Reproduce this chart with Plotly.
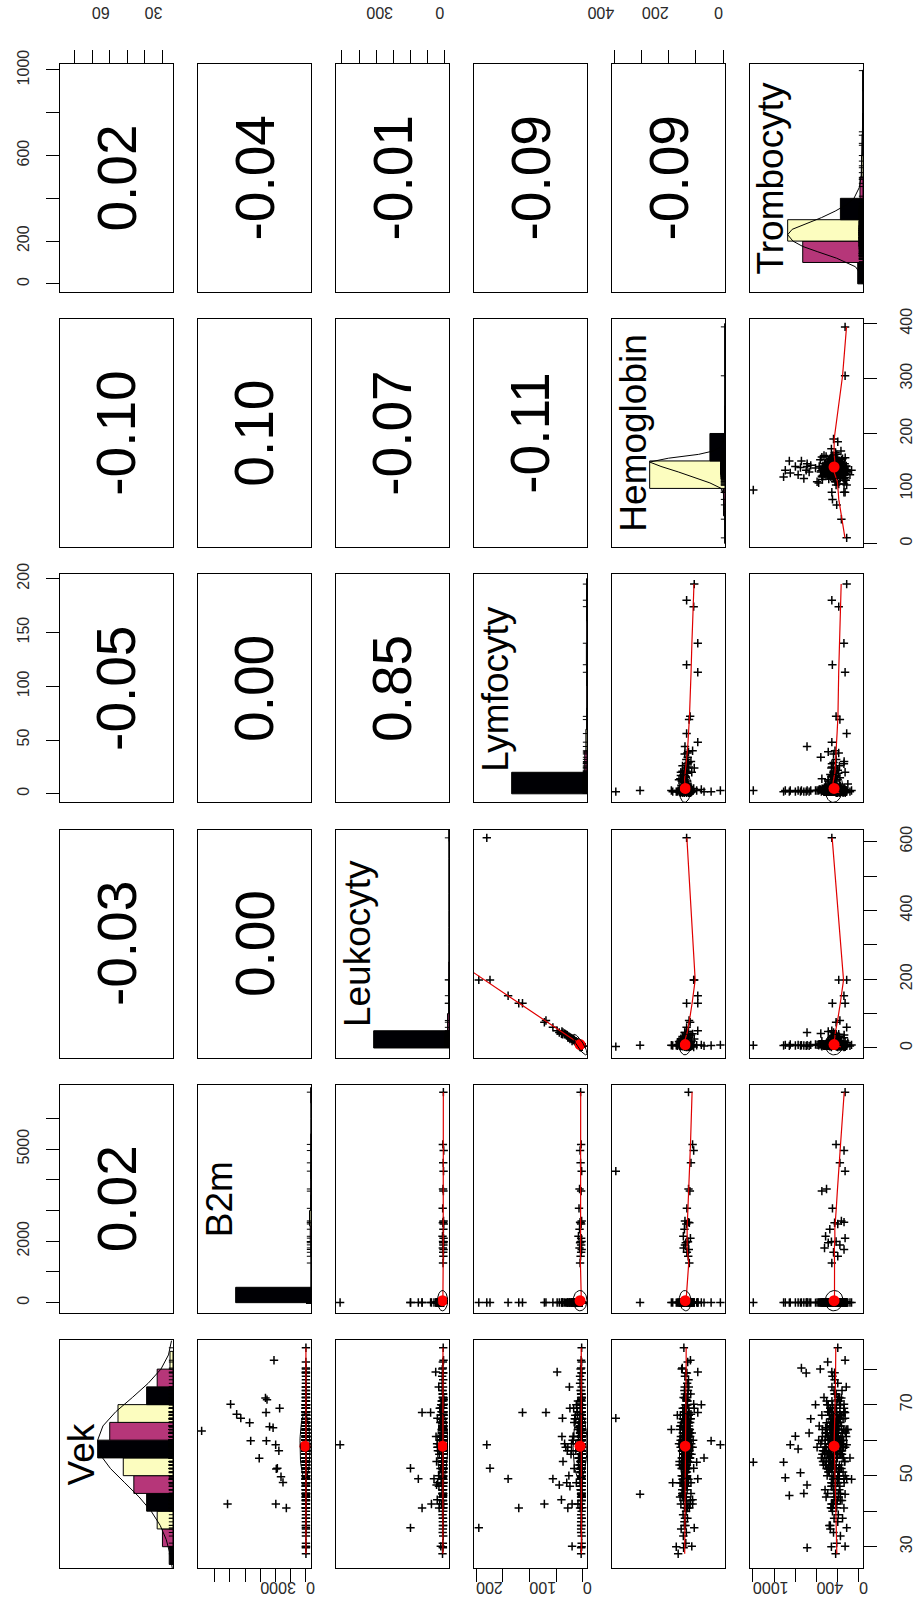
import numpy as np
import plotly.graph_objects as go

VAR_NAMES = ["Vek", "B2m", "Leukocyty", "Lymfocyty", "Hemoglobin", "Trombocyty"]

# ---------------- records: patients with raised B2m ----------------
vek_a = [62.6, 42.0, 70.1, 67.3, 66.2, 64.9, 59.8, 54.9, 71.9, 67.8, 71.4, 59.8, 63.8, 63.5, 82.5, 58.7, 51.9, 42.0, 52.1, 57.0, 69.0, 49.7, 48.1, 40.9]
b2m_a = [6850, 5150, 4950, 4550, 4280, 3700, 3630, 3070, 2660, 2620, 2560, 2600, 2390, 2160, 2100, 1990, 1950, 1980, 1880, 1780, 1730, 1640, 1510, 1290]
leuk_a = [5, 8, 3, 6, 4, 7, 5, 9, 4, 6, 3, 8, 5, 10, 4, 7, 6, 3, 5, 8, 4, 6, 5, 7]
lymf_a = [4, 3, 5, 4, 2, 6, 3, 7, 2, 5, 3, 4, 6, 8, 3, 2, 5, 4, 3, 6, 2, 3, 4, 5]
hemo_a = [127, 112, 108, 118, 394, 127, 122, 133, 140, 128, 135, 124, 142, 146, 120, 131, 137, 129, 140, 145, 126, 133, 128, 124]
tromb_a = [131, 216, 141, 180, 131, 306, 350, 250, 166, 141, 200, 230, 275, 315, 131, 216, 290, 260, 180, 325, 141, 240, 200, 256]

# ---------------- records: high leukocytes / lymphocytes ----------------
vek_l = [35.3, 58.7, 52.1, 49.1, 40.9, 67.8, 42.0, 67.8, 49.1, 79.2, 47.4, 43.2, 66.2, 40.9, 69.0, 30.1]
b2m_l = [5, 3, 7, 4, 6, 3, 5, 8, 4, 6, 3, 5, 7, 4, 6, 3]
leuk_l = [198, 611, 198, 152, 130, 130, 75, 80, 60, 50, 45, 41, 40, 30, 26, 20]
lymf_l = [195, 180, 174, 140, 120, 113, 72, 69, 56, 48, 44, 40, 38, 28, 24, 20]
hemo_l = [106, 134, 108, 93, 134, 93, 121, 125, 134, 93, 140, 112, 131, 131, 106, 115]
tromb_l = [116, 256, 191, 142, 251, 131, 216, 180, 116, 256, 490, 226, 191, 142, 216, 131]

# ---------------- records: high platelets ----------------
vek_t = [53.8, 53.8, 49.4, 44.4, 58.7, 61.1, 80.3, 78.9, 57.5, 50.8, 29.7, 62.0, 66.0, 45.0]
b2m_t = [4, 3, 5, 2, 6, 3, 4, 5, 3, 2, 4, 6, 3, 5]
leuk_t = [8, 7, 9, 6, 10, 7, 8, 6, 9, 7, 8, 6, 9, 7]
lymf_t = [3, 2, 3, 2, 3, 2, 3, 2, 3, 2, 3, 2, 3, 2]
hemo_t = [97, 121, 133, 150, 128, 140, 150, 133, 125, 138, 145, 130, 142, 118]
tromb_t = [997, 711, 695, 657, 648, 600, 543, 498, 574, 552, 489, 470, 455, 520]

# ---------------- records: unusual hemoglobin ----------------
vek_h = [44.8, 59.8, 58.7, 55.0, 63.0, 48.0, 70.0]
b2m_h = [4, 3, 5, 2, 4, 3, 6]
leuk_h = [8, 7, 9, 6, 8, 7, 9]
lymf_h = [3, 2, 3, 2, 3, 2, 4]
hemo_h = [305, 44, 10, 70, 190, 185, 80]
tromb_h = [131, 166, 116, 210, 240, 200, 250]

# ---------------- records: main body of patients ----------------
vek_b = [58, 63, 47, 71, 55, 66, 52, 60, 39, 57, 68, 61,
         54, 49, 62, 75, 58, 44, 65, 59, 51, 67, 56, 33,
         61, 70, 53, 57, 46, 64, 59, 42, 68, 55, 62, 50,
         77, 56, 60, 48, 63, 58, 36, 66, 53, 59, 72, 57,
         45, 62, 55, 69, 51, 60, 57, 64, 41, 58, 67, 54,
         60, 52, 73, 56, 61, 47, 65, 58, 55, 38, 63, 59,
         66, 54, 58, 43, 62, 57, 70, 50, 61, 56, 79, 64,
         53, 60, 49, 67, 58, 63, 55, 31, 60, 65, 52, 58,
         57, 68, 62, 46, 59, 54, 74, 61, 56, 66, 48, 60,
         64, 50, 57, 62, 35, 58, 69, 55, 63, 53, 60, 44,
         59, 65, 52, 71, 57, 61, 49, 66, 56, 28, 62, 58,
         55, 63, 60, 45, 67, 54, 59, 64, 76, 57, 51, 62,
         61, 56, 68, 53, 58, 40, 63, 57, 65, 60, 48, 70,
         52, 59, 64, 57, 82, 62, 55, 66, 50, 58, 61, 37,
         63, 58, 46, 60, 56, 69, 53, 61, 59, 73, 54, 65,
         57, 62, 51, 67, 58, 43, 60, 64, 55, 59, 78, 52,
         60, 55, 66, 58, 48, 63, 57, 61, 34, 65, 56, 68,
         59, 64, 53, 62, 72, 56, 60, 47, 67, 58, 63, 42,
         54, 61, 58, 65, 50, 59, 70, 57, 62, 44, 66, 60,
         86, 57, 63, 52, 60, 58, 65, 49, 61, 74, 56, 30,
         57, 61, 49, 66, 54, 63, 58, 70, 45, 60, 52, 64,
         59, 55, 68, 48, 62, 57, 73, 53, 60, 65, 41, 58,
         63, 50, 59, 67, 56, 61, 47, 64, 58, 54, 69, 60,
         52, 66, 57, 62, 38, 59, 64, 55, 71, 57, 61, 46,
         60, 58, 65, 51, 63, 56, 60, 75, 53, 62, 59, 67,
         55, 64, 43, 60, 58, 68, 54, 61, 57, 50, 66, 59,
         62, 57, 60, 53, 70, 58, 63, 48, 65, 56, 61, 80,
         58, 45, 62, 59, 55, 64, 51, 60, 67, 58, 36, 63,
         61, 56, 66, 49, 59, 62, 57, 72, 54, 60, 64, 52,
         57, 63, 55, 60, 44, 65, 58, 61, 53, 69, 59, 62]
b2m_b = [3, 2, 5, 4, 2, 6, 3, 4, 2, 7, 3, 5,
         4, 3, 2, 6, 3, 5, 4, 2, 8, 3, 4, 2,
         5, 3, 4, 2, 6, 3, 2, 5, 4, 3, 7, 2,
         2, 4, 3, 5, 2, 4, 6, 3, 2, 5, 3, 4,
         3, 6, 2, 4, 5, 2, 3, 4, 6, 2, 4, 3,
         4, 2, 5, 3, 2, 7, 4, 3, 5, 2, 3, 6,
         2, 5, 3, 4, 6, 3, 2, 5, 3, 4, 2, 9,
         5, 3, 2, 4, 3, 6, 5, 2, 4, 3, 5, 2,
         3, 4, 6, 2, 5, 3, 4, 2, 3, 6, 2, 4,
         4, 2, 3, 5, 2, 4, 3, 6, 2, 4, 5, 3,
         2, 6, 4, 3, 5, 2, 4, 3, 7, 2, 3, 5,
         5, 3, 2, 6, 4, 3, 5, 2, 3, 4, 2, 6,
         3, 4, 5, 2, 3, 6, 2, 4, 5, 3, 4, 2,
         4, 2, 3, 5, 6, 2, 4, 3, 2, 5, 3, 4,
         6, 3, 4, 2, 3, 5, 2, 6, 4, 3, 5, 2,
         2, 5, 3, 4, 2, 3, 6, 2, 5, 4, 3, 8,
         3, 2, 6, 3, 4, 5, 2, 3, 4, 6, 2, 5,
         5, 4, 2, 3, 6, 2, 5, 4, 3, 2, 4, 3,
         4, 3, 5, 2, 3, 4, 6, 2, 3, 5, 2, 4,
         3, 6, 2, 4, 5, 3, 2, 4, 6, 3, 5, 2,
         4, 2, 6, 3, 5, 2, 4, 3, 7, 2, 5, 3,
         3, 5, 2, 4, 6, 3, 2, 5, 3, 4, 2, 6,
         2, 4, 3, 5, 2, 6, 4, 2, 3, 5, 4, 3,
         5, 3, 4, 2, 3, 5, 6, 3, 2, 4, 3, 5,
         3, 6, 2, 5, 4, 3, 2, 4, 5, 3, 6, 2,
         4, 2, 5, 3, 6, 2, 3, 5, 4, 2, 3, 4,
         2, 5, 3, 4, 2, 4, 5, 3, 6, 2, 4, 3,
         6, 3, 2, 5, 3, 4, 2, 6, 3, 5, 2, 4,
         3, 4, 5, 2, 4, 3, 6, 2, 4, 3, 5, 2,
         5, 2, 3, 4, 5, 2, 3, 4, 2, 6, 3, 5]
leuk_b = [7, 9, 6, 12, 8, 5, 22, 7, 10, 6, 8, 14,
          9, 6, 11, 7, 35, 8, 5, 9, 13, 7, 10, 6,
          8, 18, 7, 9, 6, 11, 8, 27, 7, 10, 5, 9,
          6, 10, 8, 7, 15, 9, 6, 12, 8, 42, 7, 11,
          10, 7, 9, 24, 6, 8, 11, 7, 9, 5, 16, 8,
          7, 12, 8, 6, 10, 31, 7, 9, 11, 8, 6, 19,
          9, 6, 13, 8, 7, 10, 5, 8, 48, 9, 7, 12,
          11, 8, 7, 20, 9, 6, 10, 8, 7, 14, 9, 6,
          8, 10, 6, 9, 28, 7, 11, 8, 6, 10, 38, 7,
          6, 9, 12, 7, 8, 10, 17, 6, 9, 7, 11, 8,
          10, 7, 8, 6, 13, 9, 7, 21, 8, 10, 6, 9,
          7, 11, 9, 8, 6, 45, 10, 7, 12, 8, 9, 6,
          9, 8, 16, 7, 10, 6, 9, 11, 7, 26, 8, 10,
          6, 10, 7, 9, 8, 12, 6, 9, 33, 7, 10, 8,
          8, 7, 11, 6, 9, 10, 14, 8, 7, 9, 6, 23,
          10, 9, 6, 8, 40, 7, 11, 9, 8, 6, 12, 7,
          7, 13, 9, 10, 6, 8, 19, 7, 9, 11, 8, 6,
          9, 6, 8, 12, 7, 29, 9, 10, 6, 8, 7, 15,
          11, 8, 7, 9, 10, 6, 8, 37, 9, 7, 12, 8,
          6, 9, 10, 7, 8, 11, 6, 9, 25, 10, 7, 8,
          8, 6, 11, 7, 9, 5, 13, 8, 6, 10, 7, 9,
          7, 10, 6, 18, 8, 9, 6, 11, 7, 8, 5, 12,
          9, 7, 8, 6, 10, 24, 7, 9, 6, 11, 8, 7,
          6, 9, 12, 8, 7, 10, 6, 9, 15, 7, 8, 10,
          10, 8, 7, 9, 6, 11, 8, 32, 7, 9, 6, 8,
          7, 11, 9, 6, 8, 7, 10, 8, 9, 6, 20, 7,
          9, 6, 8, 10, 7, 9, 6, 12, 8, 7, 9, 11,
          8, 10, 6, 7, 14, 8, 9, 7, 6, 10, 8, 9,
          6, 8, 9, 11, 7, 6, 27, 8, 10, 7, 9, 6,
          10, 7, 8, 6, 9, 12, 7, 8, 6, 9, 11, 7]
lymf_b = [2, 3, 2, 4, 2, 1, 16, 2, 3, 2, 3, 8,
          3, 2, 4, 2, 28, 2, 1, 3, 6, 2, 3, 2,
          2, 12, 2, 3, 2, 4, 3, 20, 2, 3, 1, 3,
          2, 3, 2, 2, 9, 3, 2, 5, 2, 34, 2, 4,
          3, 2, 3, 17, 2, 2, 4, 2, 3, 1, 10, 3,
          2, 5, 3, 2, 3, 24, 2, 3, 4, 2, 2, 13,
          3, 2, 6, 2, 2, 3, 1, 3, 39, 3, 2, 5,
          4, 2, 2, 14, 3, 2, 3, 2, 2, 7, 3, 2,
          2, 3, 2, 3, 21, 2, 4, 3, 2, 3, 30, 2,
          2, 3, 5, 2, 3, 3, 11, 2, 3, 2, 4, 2,
          3, 2, 3, 2, 6, 3, 2, 15, 2, 3, 2, 3,
          2, 4, 3, 2, 2, 37, 3, 2, 5, 3, 3, 2,
          3, 2, 10, 2, 3, 2, 3, 4, 2, 19, 3, 3,
          2, 3, 2, 3, 2, 5, 2, 3, 26, 2, 3, 3,
          3, 2, 4, 2, 3, 3, 8, 2, 2, 3, 2, 16,
          3, 3, 2, 2, 32, 2, 4, 3, 2, 2, 5, 2,
          2, 6, 3, 3, 2, 2, 13, 2, 3, 4, 3, 2,
          3, 2, 2, 5, 2, 22, 3, 3, 2, 2, 2, 9,
          4, 3, 2, 3, 3, 2, 2, 29, 3, 2, 5, 3,
          2, 3, 3, 2, 2, 4, 2, 3, 18, 3, 2, 2,
          3, 2, 4, 2, 3, 1, 6, 3, 2, 3, 2, 3,
          2, 3, 2, 12, 3, 3, 2, 4, 2, 3, 1, 5,
          3, 2, 3, 2, 3, 17, 2, 3, 2, 4, 3, 2,
          2, 3, 5, 3, 2, 3, 2, 3, 9, 2, 3, 3,
          3, 3, 2, 3, 2, 4, 3, 25, 2, 3, 2, 3,
          2, 4, 3, 2, 3, 2, 3, 3, 3, 2, 14, 2,
          3, 2, 3, 3, 2, 3, 2, 5, 3, 2, 3, 4,
          3, 3, 2, 2, 8, 3, 3, 2, 2, 3, 3, 3,
          2, 3, 3, 4, 2, 2, 21, 3, 3, 2, 3, 2,
          3, 2, 3, 2, 3, 5, 2, 3, 2, 3, 4, 2]
hemo_b = [138, 126, 145, 131, 152, 119, 140, 134, 147, 128, 142, 136,
          130, 149, 122, 141, 135, 158, 127, 144, 133, 139, 116, 146,
          143, 132, 137, 125, 150, 140, 129, 155, 136, 121, 148, 134,
          127, 144, 139, 153, 131, 118, 142, 135, 160, 130, 145, 138,
          146, 134, 128, 141, 137, 149, 124, 143, 132, 156, 139, 129,
          135, 151, 140, 123, 147, 133, 138, 112, 144, 131, 142, 162,
          120, 139, 148, 136, 129, 145, 134, 152, 127, 141, 137, 146,
          142, 126, 135, 157, 140, 131, 149, 137, 122, 144, 133, 139,
          150, 137, 124, 143, 134, 160, 129, 140, 146, 135, 118, 141,
          133, 147, 141, 128, 154, 138, 143, 125, 136, 149, 131, 144,
          139, 121, 152, 135, 142, 130, 146, 138, 127, 165, 140, 134,
          145, 136, 130, 148, 126, 141, 137, 155, 132, 143, 139, 115,
          128, 143, 138, 133, 151, 136, 124, 145, 140, 131, 147, 137,
          141, 134, 157, 139, 130, 144, 135, 128, 149, 137, 122, 142,
          136, 148, 132, 126, 143, 139, 153, 134, 141, 129, 145, 138,
          147, 131, 140, 145, 135, 120, 142, 137, 132, 150, 140, 127,
          133, 144, 136, 139, 158, 128, 141, 146, 135, 138, 123, 143,
          140, 125, 149, 134, 137, 142, 130, 139, 168, 132, 145, 136,
          129, 146, 138, 143, 132, 154, 136, 127, 141, 135, 148, 110,
          144, 137, 131, 140, 126, 147, 139, 133, 145, 142, 130, 172,
          134, 141, 127, 146, 138, 122, 143, 131, 150, 136, 129, 144,
          140, 125, 137, 152, 132, 145, 119, 139, 148, 130, 142, 135,
          128, 147, 136, 141, 124, 155, 133, 138, 126, 144, 139, 131,
          145, 130, 149, 135, 140, 127, 143, 137, 132, 151, 121, 142,
          136, 144, 129, 139, 158, 134, 141, 126, 146, 137, 133, 148,
          123, 138, 145, 131, 142, 136, 150, 129, 140, 135, 147, 117,
          142, 133, 127, 148, 137, 144, 131, 139, 125, 143, 136, 152,
          131, 146, 140, 134, 128, 141, 137, 156, 132, 145, 138, 126,
          147, 129, 143, 138, 135, 124, 149, 133, 141, 130, 144, 139,
          135, 142, 131, 146, 139, 153, 128, 140, 136, 148, 134, 143]
tromb_b = [215, 260, 180, 305, 240, 150, 225, 285, 195, 330, 210, 245,
           270, 190, 235, 120, 255, 310, 200, 165, 280, 230, 345, 175,
           205, 290, 250, 160, 220, 375, 185, 240, 140, 265, 215, 300,
           230, 175, 320, 255, 105, 210, 270, 195, 245, 360, 185, 225,
           295, 215, 145, 250, 230, 190, 340, 205, 265, 130, 240, 280,
           185, 250, 225, 300, 170, 260, 215, 395, 235, 155, 275, 210,
           240, 135, 270, 205, 315, 225, 180, 255, 290, 200, 230, 165,
           260, 220, 195, 350, 240, 115, 285, 210, 250, 175, 305, 235,
           200, 275, 240, 185, 225, 330, 160, 245, 215, 265, 140, 290,
           245, 190, 310, 230, 270, 205, 250, 85, 235, 285, 195, 220,
           275, 230, 165, 255, 210, 300, 240, 180, 325, 220, 260, 150,
           210, 345, 225, 195, 280, 240, 170, 265, 200, 235, 290, 125,
           230, 180, 260, 315, 205, 250, 145, 275, 240, 195, 220, 410,
           265, 215, 240, 170, 295, 230, 210, 255, 185, 310, 245, 200,
           190, 250, 320, 225, 160, 270, 235, 205, 280, 215, 135, 260,
           225, 300, 195, 245, 215, 175, 265, 230, 355, 210, 250, 185,
           280, 205, 235, 150, 260, 220, 290, 195, 240, 270, 175, 230,
           215, 265, 185, 240, 330, 200, 255, 225, 170, 285, 210, 250,
           245, 195, 275, 210, 235, 155, 300, 240, 220, 190, 265, 380,
           200, 240, 215, 290, 180, 250, 225, 70, 270, 235, 205, 260,
           225, 270, 190, 245, 310, 205, 260, 175, 235, 290, 215, 250,
           180, 240, 285, 220, 155, 265, 230, 335, 200, 250, 210, 275,
           245, 200, 230, 165, 280, 215, 255, 190, 320, 235, 270, 145,
           260, 215, 175, 300, 235, 250, 205, 270, 185, 225, 345, 240,
           210, 285, 245, 195, 260, 170, 230, 255, 215, 305, 240, 180,
           270, 225, 160, 250, 205, 295, 240, 215, 265, 130, 235, 285,
           195, 255, 230, 275, 215, 185, 310, 245, 200, 260, 220, 365,
           240, 175, 265, 220, 290, 235, 150, 255, 210, 245, 280, 195,
           230, 300, 205, 245, 180, 270, 225, 195, 340, 215, 250, 260,
           215, 245, 280, 190, 235, 260, 205, 120, 250, 225, 270, 240]

vek = vek_a + vek_l + vek_t + vek_h + vek_b
b2m = b2m_a + b2m_l + b2m_t + b2m_h + b2m_b
leuk = leuk_a + leuk_l + leuk_t + leuk_h + leuk_b
lymf = lymf_a + lymf_l + lymf_t + lymf_h + lymf_b
hemo = hemo_a + hemo_l + hemo_t + hemo_h + hemo_b
tromb = tromb_a + tromb_l + tromb_t + tromb_h + tromb_b
lens = [len(v) for v in (vek, b2m, leuk, lymf, hemo, tromb)]
if len(set(lens)) != 1:
    raise SystemExit("length mismatch %s" % lens)
DATA = [np.array(v, float) for v in (vek, b2m, leuk, lymf, hemo, tromb)]

# correlations printed in the upper panels
corr = [[1.00, 0.02, -0.03, -0.05, -0.10, 0.02],
        [0.02, 1.00, 0.00, 0.00, 0.10, -0.04],
        [-0.03, 0.00, 1.00, 0.85, -0.07, -0.01],
        [-0.05, 0.00, 0.85, 1.00, -0.11, -0.09],
        [-0.10, 0.10, -0.07, -0.11, 1.00, -0.09],
        [0.02, -0.04, -0.01, -0.09, -0.09, 1.00]]
# means (red dots) and standard deviations (ellipses)
means = [58.3, 65, 10, 5, 139, 235]
sds = [9.2, 330, 30, 13, 22, 84]
# axis ranges of each variable
axis_range = [[24.0, 88.2], [-330, 7090], [-28, 635], [-8, 204], [-7, 408], [-38, 1028]]

# histograms (normalised heights, as drawn on the diagonal)
hist_start = [25, 0, 0, 0, 0, 0]
hist_step = [5, 500, 50, 20, 50, 100]
hist_vek = [0.05, 0.14, 0.21, 0.35, 0.52, 0.66, 1.0, 0.84, 0.73, 0.35, 0.21, 0.04]
hist_b2m = [1.0, 0, 0, 0.004, 0.01, 0.02, 0.006, 0.004, 0.006, 0.004, 0.004, 0, 0, 0.004]
hist_leuk = [1.0, 0.02, 0.006, 0.006, 0.004, 0, 0, 0, 0, 0, 0, 0, 0.002]
hist_lymf = [1.0, 0.03, 0.015, 0.005, 0.003, 0.006, 0.008, 0.003, 0.006, 0.006]
hist_hemo = [0.003, 0.02, 1.0, 0.2, 0.003, 0, 0.002, 0.002]
hist_tromb = [0.07, 0.8, 1.0, 0.3, 0.04, 0.02, 0.012, 0.006, 0.0, 0.003]
HISTS = [hist_vek, hist_b2m, hist_leuk, hist_lymf, hist_hemo, hist_tromb]

# density curves (normalised)
dens_vek_x = [24, 28, 32, 36, 40, 44, 48, 52, 56, 60, 64, 68, 72, 76, 80, 84, 88]
dens_vek_y = [0.01, 0.04, 0.09, 0.17, 0.29, 0.45, 0.64, 0.83, 0.97, 1.0, 0.93, 0.76, 0.54, 0.33, 0.16, 0.06, 0.02]
dens_hemo_x = [0, 60, 90, 100, 110, 120, 130, 140, 148, 155, 162, 168, 175, 185, 200, 300, 400]
dens_hemo_y = [0.0, 0.005, 0.02, 0.05, 0.2, 0.4, 0.62, 0.85, 1.0, 0.75, 0.35, 0.16, 0.06, 0.02, 0.005, 0.002, 0.001]
dens_tromb_x = [0, 50, 80, 120, 150, 175, 200, 230, 255, 280, 310, 340, 370, 400, 450, 500, 600, 700, 800, 1000]
dens_tromb_y = [0.01, 0.04, 0.1, 0.35, 0.6, 0.8, 0.93, 1.0, 0.94, 0.75, 0.55, 0.37, 0.22, 0.12, 0.05, 0.025, 0.012, 0.008, 0.004, 0.002]
DENS = {0: (dens_vek_x, dens_vek_y), 4: (dens_hemo_x, dens_hemo_y), 5: (dens_tromb_x, dens_tromb_y)}

# outer axis ticks
tick_top = {0: ([30, 40, 50, 60, 70, 80], ["30", "", "", "60", "", ""]),
            2: ([0, 100, 200, 300, 400, 500, 600], ["0", "", "", "300", "", "", ""]),
            4: ([0, 100, 200, 300, 400], ["0", "", "200", "", "400"])}
tick_bottom = {1: ([0, 1000, 2000, 3000, 4000, 5000, 6000], ["0", "", "", "3000", "", "", ""]),
               3: ([0, 50, 100, 150, 200], ["0", "", "100", "", "200"]),
               5: ([0, 200, 400, 600, 800, 1000], ["0", "", "400", "", "", "1000"])}
tick_left = {5: ([0, 200, 400, 600, 800, 1000], ["0", "200", "", "600", "", "1000"]),
             3: ([0, 50, 100, 150, 200], ["0", "50", "100", "150", "200"]),
             1: ([0, 1000, 2000, 3000, 4000, 5000, 6000], ["0", "", "2000", "", "", "5000", ""])}
tick_right = {4: ([0, 100, 200, 300, 400], ["0", "100", "200", "300", "400"]),
              2: ([0, 100, 200, 300, 400, 500, 600], ["0", "", "200", "", "400", "", "600"]),
              0: ([30, 40, 50, 60, 70, 80], ["30", "", "50", "", "70", ""])}

MAGMA3 = ["#000004", "#B63679", "#FCFDBF"]
FONT = "Liberation Sans, Arial, Helvetica, sans-serif"
TICKFONT = dict(family=FONT, size=16, color="#2a2a2a")


def lowess(x, y, f=2 / 3, iters=3):
    o = np.argsort(x, kind="mergesort")
    x = np.asarray(x, float)[o]
    y = np.asarray(y, float)[o]
    n = len(x)
    ns = max(min(int(round(f * n)), n), 2)
    D = np.abs(x[:, None] - x[None, :])
    h = np.sort(D, axis=1)[:, ns - 1]
    h = np.maximum(h, 1e-12)
    U = D / h[:, None]
    Wt = np.where(U < 0.999, (1 - np.clip(U, 0, 1) ** 3) ** 3, 0.0)
    rw = np.ones(n)
    fit = y.copy()
    span = (x.max() - x.min()) ** 2
    for _ in range(iters + 1):
        Wr = Wt * rw[None, :]
        sw = Wr.sum(1)
        ok = sw > 0
        sw_s = np.where(ok, sw, 1)
        xm = (Wr * x[None, :]).sum(1) / sw_s
        ym = (Wr * y[None, :]).sum(1) / sw_s
        dx = x[None, :] - xm[:, None]
        var = (Wr * dx ** 2).sum(1)
        cov = (Wr * dx * (y[None, :] - ym[:, None])).sum(1)
        b = np.where(np.sqrt(np.maximum(var, 0) / sw_s) > 0.001 * np.sqrt(span), cov / np.where(var > 0, var, 1), 0.0)
        fit = np.where(ok, ym + b * (x - xm), y)
        res = y - fit
        m = np.median(np.abs(res))
        if 6 * m < 1e-7 * np.mean(np.abs(y)):
            break
        u = np.abs(res) / (6 * m)
        rw = np.where(u < 0.999, (1 - np.clip(u, 0, 1) ** 2) ** 2, 0.0)
    return x, fit


W, H = 916, 1623
PW, PH = 113, 228
col_left = [60 + 138 * c for c in range(6)]
row_top = [64 + 255.2 * r for r in range(6)]

fig = go.Figure()
layout = dict(width=W, height=H, margin=dict(l=0, r=0, t=0, b=0, autoexpand=False),
              paper_bgcolor="white", plot_bgcolor="white", showlegend=False)
annotations = []

for r in range(6):
    for c in range(6):
        k = r * 6 + c + 1
        sfx = "" if k == 1 else str(k)
        xref, yref = "x" + sfx, "y" + sfx
        hv = c          # variable along the picture's horizontal direction
        vv = 5 - r      # variable along the picture's vertical direction
        x0 = col_left[c] / W
        x1 = (col_left[c] + PW) / W
        y1 = 1 - row_top[r] / H
        y0 = 1 - (row_top[r] + PH) / H
        diag = hv == vv
        xr = [1.5, 0] if diag else [axis_range[hv][1], axis_range[hv][0]]
        yr = list(axis_range[vv])
        xax = dict(domain=[x0, x1], range=xr, anchor=yref, showgrid=False, zeroline=False,
                   showline=True, mirror=True, linecolor="black", linewidth=1.3,
                   ticks="", showticklabels=False, fixedrange=True, automargin=False)
        yax = dict(domain=[y0, y1], range=yr, anchor=xref, showgrid=False, zeroline=False,
                   showline=True, mirror=True, linecolor="black", linewidth=1.3,
                   ticks="", showticklabels=False, fixedrange=True, automargin=False)
        if r == 0 and hv in tick_top:
            tv, tt = tick_top[hv]
            xax.update(side="top", ticks="outside", ticklen=13, tickwidth=1, tickcolor="black",
                       tickvals=tv, ticktext=tt, showticklabels=True, tickangle=180,
                       tickfont=TICKFONT, ticklabelstandoff=20)
        if r == 5 and hv in tick_bottom:
            tv, tt = tick_bottom[hv]
            xax.update(side="bottom", ticks="outside", ticklen=13, tickwidth=1, tickcolor="black",
                       tickvals=tv, ticktext=tt, showticklabels=True, tickangle=180,
                       tickfont=TICKFONT, ticklabelstandoff=-3)
        if c == 0 and vv in tick_left:
            tv, tt = tick_left[vv]
            yax.update(side="left", ticks="outside", ticklen=13, tickwidth=1, tickcolor="black",
                       tickvals=tv, ticktext=tt, showticklabels=True, tickangle=-90,
                       tickfont=TICKFONT, ticklabelstandoff=10)
        if c == 5 and vv in tick_right:
            tv, tt = tick_right[vv]
            yax.update(side="right", ticks="outside", ticklen=13, tickwidth=1, tickcolor="black",
                       tickvals=tv, ticktext=tt, showticklabels=True, tickangle=-90,
                       tickfont=TICKFONT, ticklabelstandoff=16)
        layout["xaxis" + sfx] = xax
        layout["yaxis" + sfx] = yax

        if diag:
            hts = HISTS[vv]
            st, sp = hist_start[vv], hist_step[vv]
            centers = [st + sp * (i + 0.5) for i in range(len(hts))]
            cols = [MAGMA3[i % 3] for i in range(len(hts))]
            fig.add_trace(go.Bar(x=hts, y=centers, width=sp, orientation="h", base=0,
                                 marker=dict(color=cols, line=dict(color="black", width=1)),
                                 xaxis=xref, yaxis=yref, hoverinfo="skip"))
            if vv in DENS:
                dx_, dy_ = DENS[vv]
                fig.add_trace(go.Scatter(x=dy_, y=dx_, mode="lines", line=dict(color="black", width=1),
                                         xaxis=xref, yaxis=yref, hoverinfo="skip"))
            fig.add_trace(go.Scatter(x=np.full(len(DATA[vv]), 0.018), y=DATA[vv], mode="markers",
                                     marker=dict(symbol="line-ew", size=4, line=dict(color="black", width=1)),
                                     xaxis=xref, yaxis=yref, hoverinfo="skip"))
            annotations.append(dict(text=VAR_NAMES[vv], xref=xref + " domain", yref=yref + " domain",
                                    x=0.19, y=0.5, xanchor="center", yanchor="middle",
                                    showarrow=False, textangle=-90,
                                    font=dict(family=FONT, size=37, color="black")))
        elif hv < vv:
            # invisible anchor so that the empty panel (box and outer ticks) is drawn
            fig.add_trace(go.Scatter(x=[sum(axis_range[hv]) / 2], y=[sum(axis_range[vv]) / 2],
                                     mode="markers", marker=dict(size=1, opacity=0),
                                     xaxis=xref, yaxis=yref, hoverinfo="skip"))
            annotations.append(dict(text="%.2f" % corr[hv][vv], xref=xref + " domain", yref=yref + " domain",
                                    x=0.5, y=0.5, xanchor="center", yanchor="middle",
                                    showarrow=False, textangle=-90,
                                    font=dict(family=FONT, size=55, color="black")))
        else:
            xs, ys = DATA[vv], DATA[hv]
            fig.add_trace(go.Scatter(x=ys, y=xs, mode="markers",
                                     marker=dict(symbol="cross-thin", size=6, color="black",
                                                 line=dict(color="black", width=1.5)),
                                     xaxis=xref, yaxis=yref, hoverinfo="skip"))
            lx, ly = lowess(xs, ys)
            fig.add_trace(go.Scatter(x=ly, y=lx, mode="lines", line=dict(color="#E00000", width=1.2),
                                     xaxis=xref, yaxis=yref, hoverinfo="skip"))
            fig.add_trace(go.Scatter(x=[means[hv]], y=[means[vv]], mode="markers",
                                     marker=dict(symbol="circle", size=11, color="#FF0000"),
                                     xaxis=xref, yaxis=yref, hoverinfo="skip"))
            rr = corr[vv][hv]
            ang = np.linspace(0, 2 * np.pi, 52)
            th = np.sign(rr) / np.sqrt(2) if abs(rr) > 0 else 1 / np.sqrt(2)
            shape = np.diag([np.sqrt(1 + rr), np.sqrt(1 - rr)]) @ np.array([[th, th], [-th, th]])
            el = np.column_stack([np.cos(ang), np.sin(ang)]) @ shape
            ex = el[:, 0] * sds[vv] + means[vv]
            ey = el[:, 1] * sds[hv] + means[hv]
            fig.add_trace(go.Scatter(x=ey, y=ex, mode="lines", line=dict(color="black", width=1),
                                     xaxis=xref, yaxis=yref, hoverinfo="skip"))

layout["annotations"] = annotations
fig.update_layout(**layout)
fig.write_html("out.html", config={"displayModeBar": False})
